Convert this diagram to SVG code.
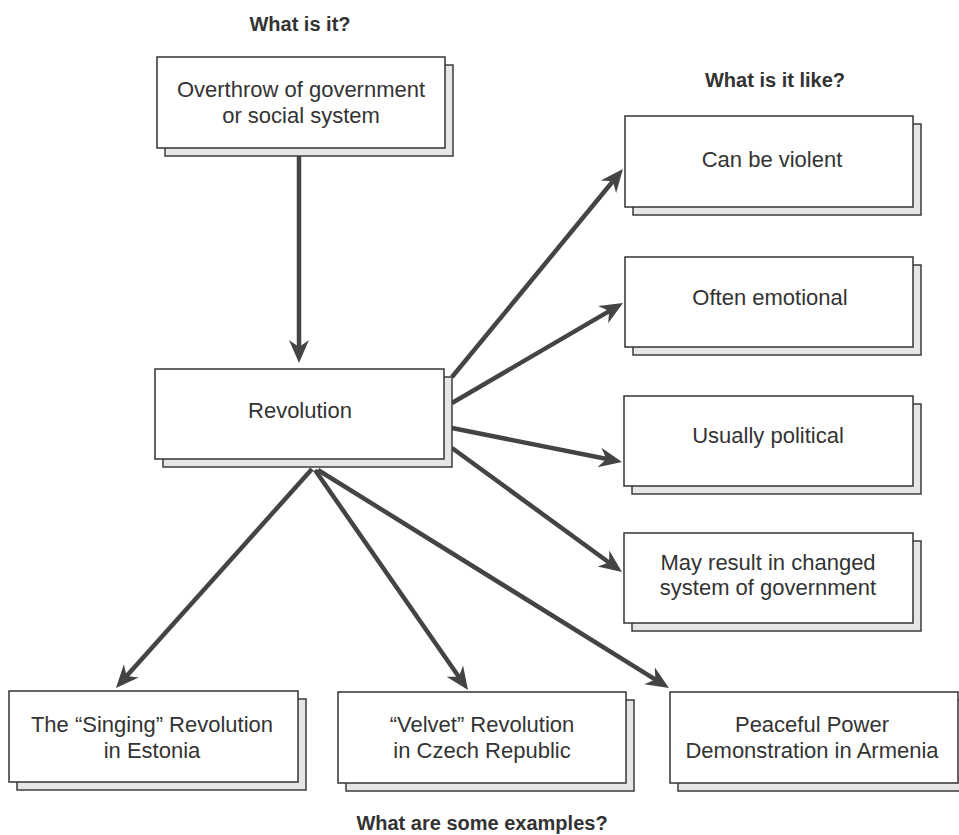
<svg xmlns="http://www.w3.org/2000/svg" width="959" height="835" viewBox="0 0 959 835">
<style>
.bg{fill:#ffffff}
.sh{fill:#e6e6e6;stroke:#3c3c3c;stroke-width:1.5}
.bx{fill:#ffffff;stroke:#333333;stroke-width:1.5}
.t{font-family:"Liberation Sans",Arial,sans-serif;font-size:22px;fill:#333333;text-anchor:middle}
.h{font-family:"Liberation Sans",Arial,sans-serif;font-size:20px;font-weight:bold;fill:#333333;text-anchor:middle}
.c{stroke:#444444;stroke-width:4.5;fill:none;marker-end:url(#ah)}
</style>
<defs>
<marker id="ah" markerUnits="userSpaceOnUse" markerWidth="24" markerHeight="22" viewBox="0 -11 24 22" refX="9" refY="0" orient="auto">
<path d="M0,-10 L23,0 L0,10 L7,0 Z" fill="#444444"/>
</marker>
</defs>
<rect class="bg" x="0" y="0" width="959" height="835"/>

<text class="h" x="300" y="31">What is it?</text>
<text class="h" x="775" y="87">What is it like?</text>
<text class="h" x="482" y="830">What are some examples?</text>

<g id="connectors">
<line class="c" x1="299" y1="150" x2="299" y2="349"/>
<line class="c" x1="452" y1="377" x2="614.1" y2="179.8"/>
<line class="c" x1="452" y1="403" x2="610.9" y2="310.1"/>
<line class="c" x1="452" y1="428" x2="608.3" y2="459.3"/>
<line class="c" x1="452" y1="448" x2="610.7" y2="563.8"/>
<line class="c" x1="312" y1="469" x2="125.3" y2="677.6"/>
<line class="c" x1="315" y1="470" x2="460" y2="678.5"/>
<line class="c" x1="318" y1="470" x2="657.1" y2="680.6"/>
</g>

<g id="overthrow">
<rect class="sh" x="165" y="65" width="288" height="91"/>
<rect class="bx" x="157" y="57" width="288" height="91"/>
<text class="t" x="301" y="97">Overthrow of government</text>
<text class="t" x="301" y="123">or social system</text>
</g>

<g id="revolution">
<rect class="sh" x="163" y="377" width="289" height="90"/>
<rect class="bx" x="155" y="369" width="289" height="90"/>
<text class="t" x="300" y="418">Revolution</text>
</g>

<g id="violent">
<rect class="sh" x="633" y="124" width="288" height="91"/>
<rect class="bx" x="625" y="116" width="288" height="91"/>
<text class="t" x="772" y="167">Can be violent</text>
</g>

<g id="emotional">
<rect class="sh" x="633" y="265" width="288" height="90"/>
<rect class="bx" x="625" y="257" width="288" height="90"/>
<text class="t" x="770" y="305">Often emotional</text>
</g>

<g id="political">
<rect class="sh" x="632" y="404" width="289" height="90"/>
<rect class="bx" x="624" y="396" width="289" height="90"/>
<text class="t" x="768" y="443">Usually political</text>
</g>

<g id="changed">
<rect class="sh" x="632" y="541" width="289" height="90"/>
<rect class="bx" x="624" y="533" width="289" height="90"/>
<text class="t" x="768" y="570">May result in changed</text>
<text class="t" x="768" y="595">system of government</text>
</g>

<g id="estonia">
<rect class="sh" x="17" y="699" width="289" height="91"/>
<rect class="bx" x="9" y="691" width="289" height="91"/>
<text class="t" x="152" y="732">The “Singing” Revolution</text>
<text class="t" x="152" y="758">in Estonia</text>
</g>

<g id="velvet">
<rect class="sh" x="346" y="700" width="288" height="91"/>
<rect class="bx" x="338" y="692" width="288" height="91"/>
<text class="t" x="482" y="732">“Velvet” Revolution</text>
<text class="t" x="482" y="758">in Czech Republic</text>
</g>

<g id="armenia">
<rect class="sh" x="678" y="700" width="288" height="91"/>
<rect class="bx" x="670" y="692" width="288" height="91"/>
<text class="t" x="812" y="732">Peaceful Power</text>
<text class="t" x="812" y="758">Demonstration in Armenia</text>
</g>
</svg>
